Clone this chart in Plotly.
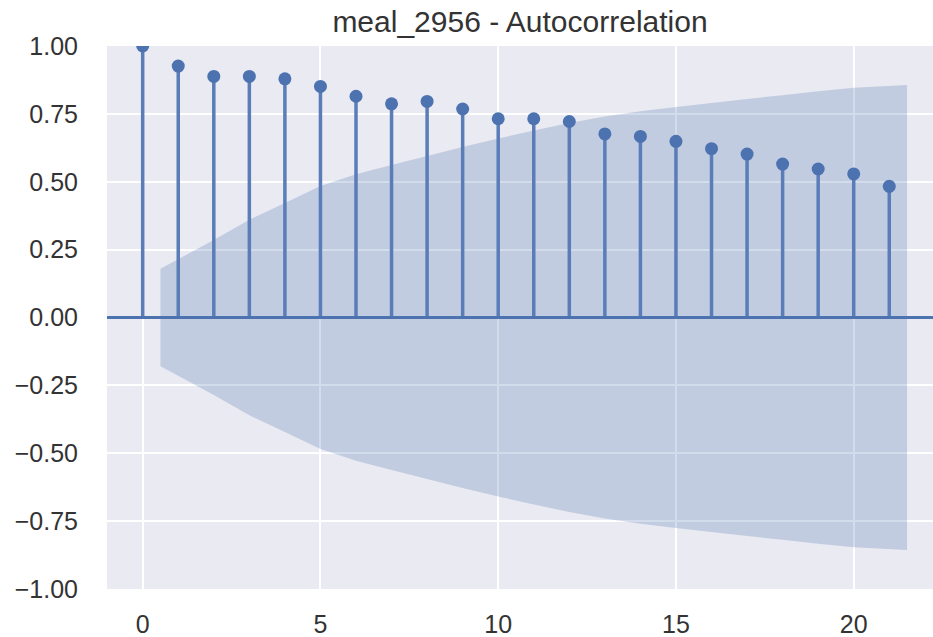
import plotly.graph_objects as go

lags = list(range(22))
acf_values = [1.000, 0.926, 0.888, 0.888, 0.879, 0.851, 0.815, 0.787, 0.796, 0.768,
              0.732, 0.732, 0.722, 0.676, 0.667, 0.649, 0.622, 0.602, 0.565, 0.547,
              0.529, 0.483]
# confidence band half-width for lags 1..21
conf_lags = [0.5, 2, 3, 4, 5, 6, 7, 8, 9, 10, 11, 12, 13, 14, 15, 16, 17, 18, 19, 20, 21.5]
conf_half = [0.180, 0.285, 0.360, 0.422, 0.484, 0.528, 0.562, 0.595, 0.628, 0.659,
             0.689, 0.716, 0.740, 0.760, 0.775, 0.790, 0.805, 0.819, 0.833, 0.846, 0.856]
y_ticks = [-1.0, -0.75, -0.5, -0.25, 0.0, 0.25, 0.5, 0.75, 1.0]
x_ticks = [0, 5, 10, 15, 20]
title = "meal_2956 - Autocorrelation"

C0 = "#4c72b0"
FONT = "Arial, Liberation Sans, sans-serif"

fig = go.Figure()

# confidence band
band_x = conf_lags + conf_lags[::-1]
band_y = conf_half + [-v for v in conf_half[::-1]]
fig.add_trace(go.Scatter(x=band_x, y=band_y, fill="toself", mode="none",
                         fillcolor="rgba(76,114,176,0.25)", hoverinfo="skip",
                         showlegend=False))

# zero line
fig.add_hline(y=0, line=dict(color=C0, width=3), layer="above")

# stems
sx, sy = [], []
for k, v in zip(lags, acf_values):
    sx += [k, k, None]
    sy += [0, v, None]
fig.add_trace(go.Scatter(x=sx, y=sy, mode="lines",
                         line=dict(color="#5a7db8", width=3.5),
                         showlegend=False, hoverinfo="skip"))

# markers
fig.add_trace(go.Scatter(x=lags, y=acf_values, mode="markers",
                         marker=dict(color=C0, size=13), cliponaxis=True,
                         showlegend=False))

fig.update_layout(
    width=933, height=637,
    margin=dict(l=107, r=0, t=46, b=48, autoexpand=False),
    paper_bgcolor="white", plot_bgcolor="#eaeaf2",
    font=dict(family=FONT, size=25, color="#333333"),
    title=dict(text=title, x=0.5, xanchor="center", y=1 - 21 / 637, yanchor="middle",
               xref="paper", font=dict(family=FONT, size=30, color="#333333")),
    showlegend=False,
)
fig.update_xaxes(range=[-1.004, 22.23], tickvals=x_ticks,
                 ticktext=[str(t) for t in x_ticks],
                 showgrid=True, gridcolor="white", gridwidth=2,
                 zeroline=False, showline=False, ticks="", automargin=False,
                 ticklabelstandoff=18)
fig.update_yaxes(range=[-1, 1], tickvals=y_ticks,
                 ticktext=[f"{t:.2f}".replace("-", "\u2212") for t in y_ticks],
                 showgrid=True, gridcolor="white", gridwidth=2,
                 zeroline=False, showline=False, ticks="", automargin=False,
                 ticklabelstandoff=28)

fig.write_html("out.html", config={"displayModeBar": False},
               post_script="document.body.style.margin='0';document.body.style.padding='0';")
